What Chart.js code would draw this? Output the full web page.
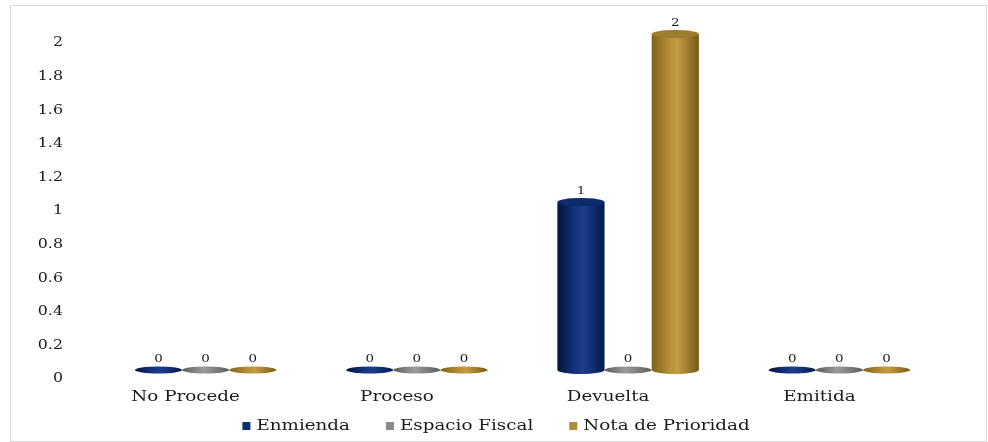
<!DOCTYPE html>
<html>
<head>
<meta charset="utf-8">
<script src="https://cdn.jsdelivr.net/npm/chart.js@4"></script>
<style>
html,body{margin:0;padding:0;background:#fff;}
#wrap{width:988px;height:442px;position:relative;}
</style>
</head>
<body>
<div id="wrap"><canvas id="c" width="988" height="442"></canvas></div>
<script>
const categories = ['No Procede', 'Proceso', 'Devuelta', 'Emitida'];
const seriesNames = ['Enmienda', 'Espacio Fiscal', 'Nota de Prioridad'];
const enmienda = [0, 0, 1, 0];
const espacioFiscal = [0, 0, 0, 0];
const notaPrioridad = [0, 0, 2, 0];
const yTicks = { min: 0, max: 2, step: 0.2 };

const legendColors = ['#0f2d6b', '#8c8c8c', '#b08c3a'];
const bodyStops = [
  [[0, '#04143a'], [0.35, '#12317a'], [0.55, '#1c3d8c'], [0.8, '#0f2a6a'], [1, '#051644']],
  [[0, '#5a5a5a'], [0.45, '#9c9c9c'], [1, '#5c5c5c']],
  [[0, '#80611a'], [0.4, '#b8923a'], [0.55, '#c29b44'], [1, '#775a16']]
];
const topColors = ['#0e2b6c', '#7e7e7e', '#9d7c2e'];
const TRANSPARENT = 'rgba(0,0,0,0)';

const FONT = "'DejaVu Serif', 'Liberation Serif', serif";
const TEXT = '#1a1a1a';
const SX = 1.22;           // horizontal text stretch, as in the reference
const DX = 20, DY = -9, RY = 4;

// widen the text drawn on this canvas
const canvas = document.getElementById('c');
const c2d = canvas.getContext('2d');
const origFill = c2d.fillText.bind(c2d);
const origMeasure = c2d.measureText.bind(c2d);
c2d.fillText = function (t, x, y) {
  this.save();
  this.translate(x, y);
  this.scale(SX, 1);
  origFill(t, 0, 0);
  this.restore();
};
c2d.measureText = function (t) {
  const m = origMeasure(t);
  return {
    width: m.width * SX,
    actualBoundingBoxAscent: m.actualBoundingBoxAscent,
    actualBoundingBoxDescent: m.actualBoundingBoxDescent,
    actualBoundingBoxLeft: m.actualBoundingBoxLeft * SX,
    actualBoundingBoxRight: m.actualBoundingBoxRight * SX,
    fontBoundingBoxAscent: m.fontBoundingBoxAscent,
    fontBoundingBoxDescent: m.fontBoundingBoxDescent
  };
};

const cylPlugin = {
  id: 'cyl',
  beforeDraw(chart) {
    const ctx = chart.ctx;
    ctx.save();
    ctx.fillStyle = '#fff';
    ctx.fillRect(0, 0, chart.width, chart.height);
    ctx.strokeStyle = '#d9d9d9';
    ctx.lineWidth = 1;
    ctx.strokeRect(10.5, 5.5, 976, 436);
    ctx.restore();
  },
  afterDatasetsDraw(chart) {
    const ctx = chart.ctx;
    chart.data.datasets.forEach((ds, i) => {
      const meta = chart.getDatasetMeta(i);
      meta.data.forEach((el, j) => {
        const p = el.getProps(['x', 'y', 'base', 'width'], true);
        const cx = p.x + DX, w = p.width, rx = w / 2;
        const top = p.y + DY, bottom = p.base + DY;
        const g = ctx.createLinearGradient(cx - rx, 0, cx + rx, 0);
        bodyStops[i].forEach(s => g.addColorStop(s[0], s[1]));
        ctx.save();
        if (bottom - top > 0.5) {
          ctx.beginPath();
          ctx.moveTo(cx - rx, top);
          ctx.lineTo(cx - rx, bottom);
          ctx.ellipse(cx, bottom, rx, RY, 0, Math.PI, 0, true);
          ctx.lineTo(cx + rx, top);
          ctx.closePath();
          ctx.fillStyle = g;
          ctx.fill();
          ctx.beginPath();
          ctx.ellipse(cx, top, rx, RY, 0, 0, Math.PI * 2);
          ctx.fillStyle = topColors[i];
          ctx.fill();
        } else {
          ctx.beginPath();
          ctx.ellipse(cx, bottom, rx, RY - 0.5, 0, 0, Math.PI * 2);
          ctx.fillStyle = g;
          ctx.fill();
        }
        ctx.fillStyle = TEXT;
        ctx.font = "11px " + FONT;
        ctx.textAlign = 'center';
        ctx.textBaseline = 'bottom';
        ctx.fillText(String(ds.data[j]), cx, top - RY - 1);
        ctx.restore();
      });
    });
  },
  afterDraw(chart) {
    // legend row
    const ctx = chart.ctx;
    ctx.save();
    ctx.font = "15px " + FONT;
    const box = 8, gapText = 6, gapItem = 36;
    const widths = seriesNames.map(n => box + gapText + ctx.measureText(n).width);
    const total = widths.reduce((a, b) => a + b, 0) + gapItem * (widths.length - 1);
    let x = 496 - total / 2;
    const yc = 426;
    seriesNames.forEach((n, i) => {
      ctx.fillStyle = legendColors[i];
      ctx.fillRect(x, yc - box / 2, box, box);
      ctx.fillStyle = TEXT;
      ctx.textAlign = 'left';
      ctx.textBaseline = 'middle';
      ctx.fillText(n, x + box + gapText, yc);
      x += widths[i] + gapItem;
    });
    ctx.restore();
  }
};

new Chart(canvas, {
  type: 'bar',
  data: {
    labels: categories,
    datasets: [
      { label: seriesNames[0], data: enmienda, backgroundColor: TRANSPARENT, borderColor: TRANSPARENT, borderWidth: 0 },
      { label: seriesNames[1], data: espacioFiscal, backgroundColor: TRANSPARENT, borderColor: TRANSPARENT, borderWidth: 0 },
      { label: seriesNames[2], data: notaPrioridad, backgroundColor: TRANSPARENT, borderColor: TRANSPARENT, borderWidth: 0 }
    ]
  },
  options: {
    responsive: false,
    animation: false,
    layout: { padding: { top: 43, left: 0, right: 0, bottom: 33 } },
    datasets: { bar: { categoryPercentage: 0.67, barPercentage: 1.0 } },
    scales: {
      x: {
        grid: { display: false, drawTicks: false },
        border: { display: false },
        ticks: { color: TEXT, font: { family: FONT, size: 15 }, padding: 9 },
        afterFit(s) { s.height = 30; }
      },
      y: {
        min: yTicks.min, max: yTicks.max,
        grid: { display: false, drawTicks: false },
        border: { display: false },
        ticks: {
          stepSize: yTicks.step, color: TEXT, font: { family: FONT, size: 13 }, padding: 17,
          callback: v => String(Number(v.toFixed(1)))
        },
        afterFit(s) { s.width = 80; }
      },
      yr: {
        position: 'right', display: true, min: 0, max: 2,
        grid: { display: false, drawTicks: false },
        border: { display: false },
        ticks: { display: false },
        afterFit(s) { s.width = 63; }
      }
    },
    plugins: {
      legend: { display: false },
      tooltip: { enabled: false },
      colors: { enabled: false }
    }
  },
  plugins: [cylPlugin]
});
</script>
</body>
</html>
